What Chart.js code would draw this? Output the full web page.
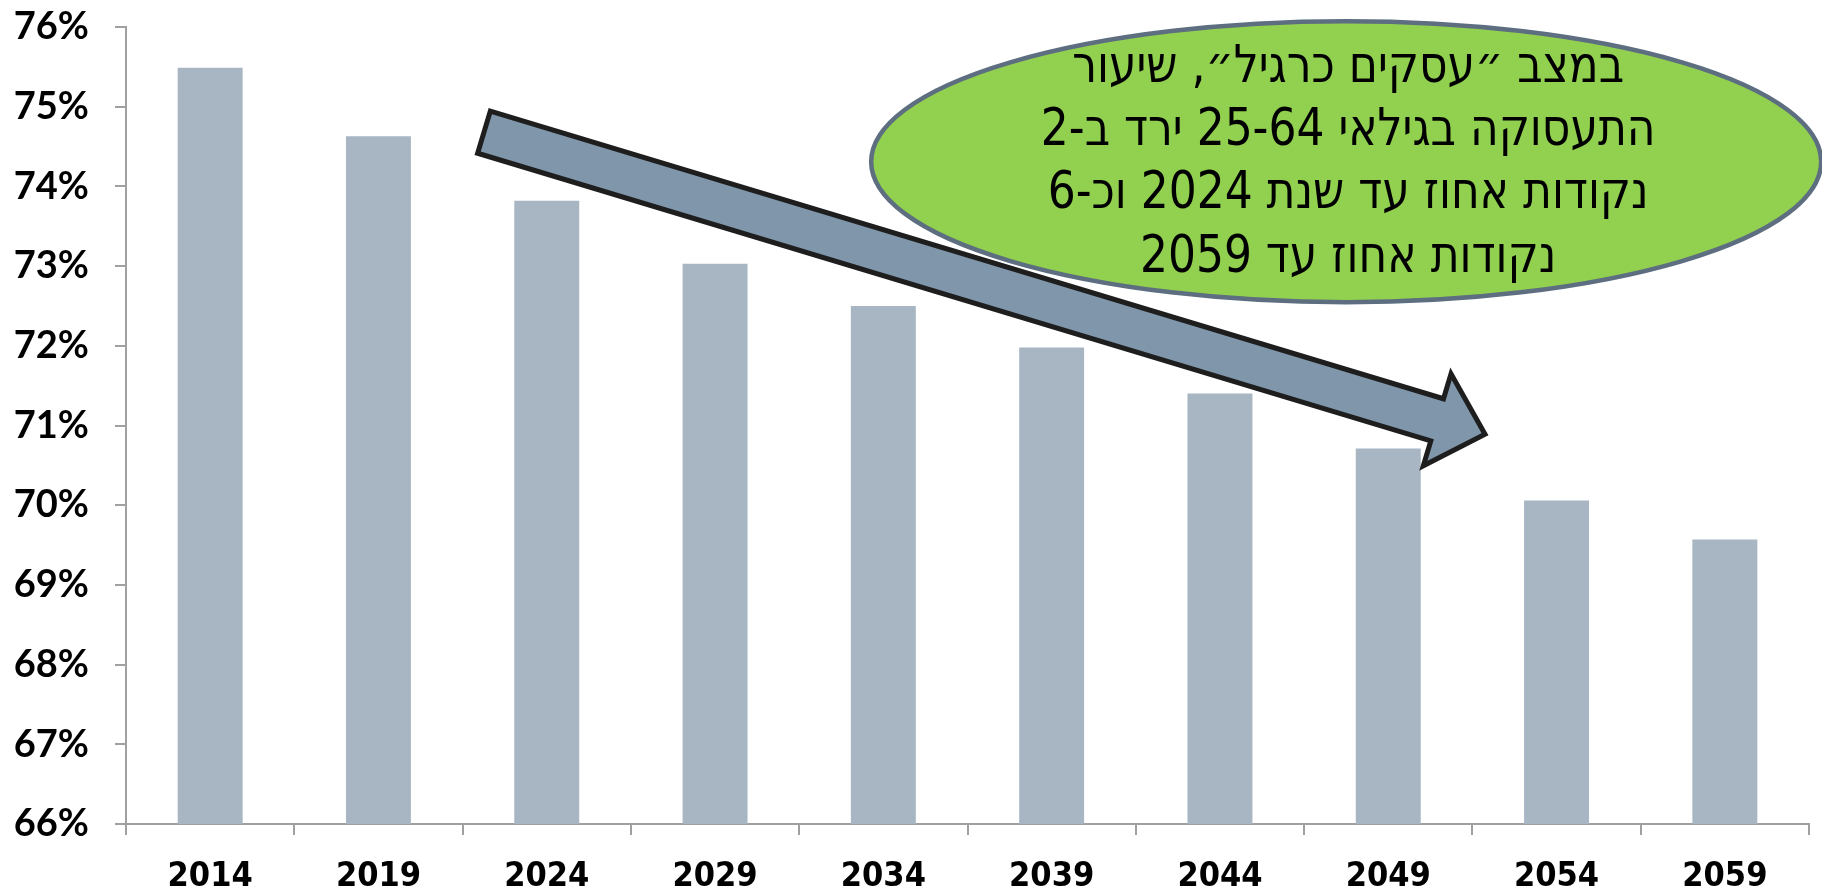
<!DOCTYPE html>
<html>
<head>
<meta charset="utf-8">
<script src="https://cdn.jsdelivr.net/npm/chart.js@4.4.1/dist/chart.umd.min.js"></script>
<style>
  html, body { margin: 0; padding: 0; background: #fff; }
  #wrap { width: 1822px; height: 887px; }
</style>
</head>
<body>
<div id="wrap"><canvas id="chart" width="1822" height="887"></canvas></div>
<script>
const years = ["2014", "2019", "2024", "2029", "2034", "2039", "2044", "2049", "2054", "2059"];
const employmentRate = [75.49, 74.63, 73.82, 73.03, 72.50, 71.98, 71.40, 70.71, 70.06, 69.57];
const yMin = 66;
const yMax = 76;

const calloutLines = [
  "במצב ״עסקים כרגיל״, שיעור",
  "התעסוקה בגילאי 25-64 ירד ב-2",
  "נקודות אחוז עד שנת 2024 וכ-6",
  "נקודות אחוז עד 2059"
];

// arrow ends and callout centre, in axis units (category index, percent)
const arrowFrom = { x: 1.627, y: 74.68 };
const arrowTo = { x: 7.575, y: 70.89 };
const calloutAt = { x: 6.75, y: 74.31 };

const axisColor = "#a0a0a0";
const textFont = '"Lato", "Open Sans", sans-serif';
const yearFont = '"Liberation Sans Narrow", "DejaVu Sans Condensed", sans-serif';
const hebFont = '"Liberation Sans Narrow", "DejaVu Sans Condensed", "Liberation Sans", sans-serif';

const annotations = {
  id: "annotations",
  afterDatasetsDraw(chart) {
    const { ctx, scales: { x, y } } = chart;

    // block arrow
    const tx = x.getPixelForValue(arrowFrom.x), ty = y.getPixelForValue(arrowFrom.y);
    const px = x.getPixelForValue(arrowTo.x), py = y.getPixelForValue(arrowTo.y);
    const len = Math.hypot(px - tx, py - ty);
    const dx = (px - tx) / len, dy = (py - ty) / len;
    const nx = -dy, ny = dx;
    const shaft = 22, head = 48, headLen = 50;
    const bx = px - dx * headLen, by = py - dy * headLen;
    ctx.save();
    ctx.beginPath();
    ctx.moveTo(tx - nx * shaft, ty - ny * shaft);
    ctx.lineTo(bx - nx * shaft, by - ny * shaft);
    ctx.lineTo(bx - nx * head, by - ny * head);
    ctx.lineTo(px, py);
    ctx.lineTo(bx + nx * head, by + ny * head);
    ctx.lineTo(bx + nx * shaft, by + ny * shaft);
    ctx.lineTo(tx + nx * shaft, ty + ny * shaft);
    ctx.closePath();
    ctx.fillStyle = "#7f96ab";
    ctx.fill();
    ctx.lineWidth = 5;
    ctx.lineJoin = "miter";
    ctx.strokeStyle = "#1e1e1e";
    ctx.stroke();
    ctx.restore();

    // callout ellipse
    const cx = x.getPixelForValue(calloutAt.x), cy = y.getPixelForValue(calloutAt.y);
    ctx.save();
    ctx.beginPath();
    ctx.ellipse(cx, cy, 475, 140.5, 0, 0, Math.PI * 2);
    ctx.fillStyle = "#92d050";
    ctx.fill();
    ctx.lineWidth = 4.5;
    ctx.strokeStyle = "#5d6e80";
    ctx.stroke();

    ctx.fillStyle = "#000";
    ctx.font = "52px " + hebFont;
    ctx.direction = "rtl";
    ctx.textAlign = "center";
    ctx.textBaseline = "middle";
    calloutLines.forEach((line, i) => {
      ctx.save();
      ctx.translate(cx + 2, cy - 93.5 + i * 63.3);
      ctx.scale(0.94, 1);
      ctx.fillText(line, 0, 0);
      ctx.restore();
    });
    ctx.restore();
  }
};

new Chart(document.getElementById("chart"), {
  type: "bar",
  data: {
    labels: years,
    datasets: [{
      data: employmentRate,
      backgroundColor: "#a8b6c4",
      borderWidth: 0,
      categoryPercentage: 1,
      barPercentage: 0.386
    }]
  },
  options: {
    responsive: false,
    animation: false,
    layout: { padding: { top: 27, right: 13, left: 0, bottom: 0 } },
    plugins: { legend: { display: false }, tooltip: { enabled: false } },
    scales: {
      x: {
        afterFit(scale) { scale.height = 63; },
        grid: { drawOnChartArea: false, drawTicks: true, tickLength: 11, color: axisColor, lineWidth: 2, offset: true },
        border: { display: true, color: axisColor, width: 2 },
        ticks: { color: "#000", padding: 22, font: { family: yearFont, size: 34, weight: "bold" } }
      },
      y: {
        min: yMin,
        max: yMax,
        afterFit(scale) {
          scale.width = 126;
          scale.paddingTop = 0;
          scale.paddingBottom = 0;
        },
        grid: { drawOnChartArea: false, drawTicks: true, tickLength: 11, color: axisColor, lineWidth: 2 },
        border: { display: true, color: axisColor, width: 2 },
        ticks: {
          stepSize: 1,
          color: "#000",
          padding: 26,
          font: { family: textFont, size: 38, weight: "bold" },
          callback: (v) => v + "%"
        }
      }
    }
  },
  plugins: [annotations]
});
</script>
</body>
</html>
